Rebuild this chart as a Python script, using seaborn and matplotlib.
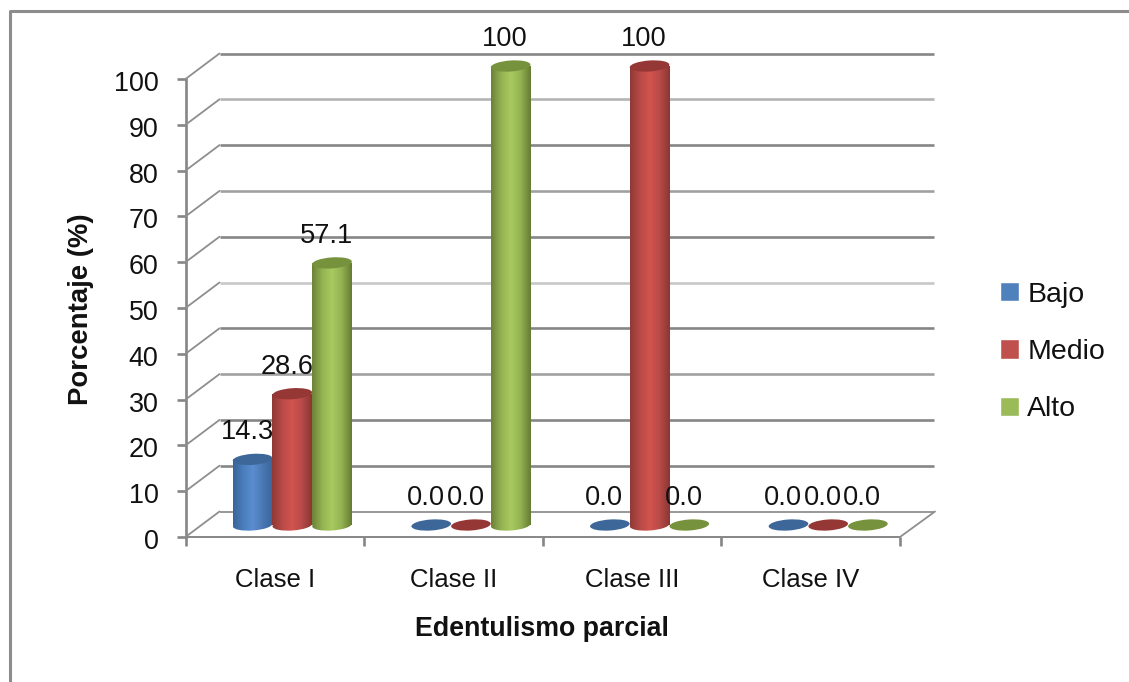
import numpy as np
import pandas as pd
import seaborn as sns
import matplotlib
matplotlib.use("Agg")
import matplotlib.pyplot as plt
from matplotlib.colors import LinearSegmentedColormap
from matplotlib.lines import Line2D
from matplotlib.patches import Ellipse
from matplotlib.transforms import Affine2D

categories = ["Clase I", "Clase II", "Clase III", "Clase IV"]
bajo = [14.3, 0.0, 0.0, 0.0]
medio = [28.6, 0.0, 100, 0.0]
alto = [57.1, 100, 0.0, 0.0]
label_bajo = ["14.3", "0.0", "0.0", "0.0"]
label_medio = ["28.6", "0.0", "100", "0.0"]
label_alto = ["57.1", "100", "0.0", "0.0"]
series_names = ["Bajo", "Medio", "Alto"]
legend_colors = ["#4F81BD", "#C0504D", "#9BBB59"]
top_colors = ["#3D6799", "#953735", "#77923C"]
side_ramps = [["#3A659A", "#4A7DBC", "#5B8ED0", "#4A78B3", "#3A659A"],
              ["#8F3A37", "#B84A47", "#D2544F", "#B84A47", "#8C3633"],
              ["#6C8238", "#93B252", "#A8CA60", "#93B252", "#667C34"]]
grid_shades = ["#868686", "#868686", "#868686", "#A0A0A0", "#868686", "#C8C8C8",
               "#868686", "#A0A0A0", "#868686", "#B4B4B4", "#868686"]

W, H = 1129, 682
GREY = "#868686"
TXT = "#111111"
sns.set_theme(style="white")
plt.rcParams["font.family"] = ["Liberation Sans", "DejaVu Sans"]
fig = plt.figure(figsize=(W / 100, H / 100), dpi=100, facecolor="white")


def box(x0, y0, x1, y1):
    return [x0 / W, 1 - y1 / H, (x1 - x0) / W, (y1 - y0) / H]


# frame of the chart area
fig.add_artist(Line2D([9.5 / W, 9.5 / W, 1], [0, 1 - 10.5 / H, 1 - 10.5 / H], color="#8C8C8C", lw=2.2))

# front axes: carries ticks, labels and the wall grid
front = fig.add_axes(box(185.5, 79, 900, 537))
front.set_xlim(-0.5, 3.5)
front.set_ylim(0, 100)
front.patch.set_alpha(0)
for s in ("top", "right"):
    front.spines[s].set_visible(False)
front.spines["left"].set_color(GREY)
front.spines["left"].set_linewidth(1.9)
front.spines["bottom"].set_color(GREY)
front.spines["bottom"].set_linewidth(1.4)
front.set_yticks(np.arange(0, 101, 10))
front.tick_params(axis="y", length=6.5, width=1.9, color=GREY, labelsize=19.4, pad=13, labelcolor=TXT, left=True)
front.set_xticks(np.arange(-0.5, 3.6, 1))
front.set_xticklabels([])
front.tick_params(axis="x", which="major", length=6.5, width=1.9, color=GREY, bottom=True)
front.set_xticks(np.arange(4), labels=categories, minor=True)
front.tick_params(axis="x", which="minor", length=0, labelsize=18.5, pad=22, labelcolor=TXT, bottom=True)
for t in front.get_yticklabels():
    t.set_transform(t.get_transform() + Affine2D().translate(0, -2))

back = front.transData + Affine2D().translate(34, 25.5)
for v, shade in zip(np.arange(0, 101, 10), grid_shades):
    lw = 1.2 if v == 0 else 1.9
    front.plot([-0.5, 3.5], [v, v], transform=back, color=shade, lw=lw, clip_on=False, zorder=1, solid_capstyle="butt")
    front.annotate("", xy=(-0.5, v), xytext=(34, 25.5), textcoords="offset pixels",
                   arrowprops=dict(arrowstyle="-", color="#8E8E8E", lw=1.3, shrinkA=0, shrinkB=0))
front.annotate("", xy=(3.5, 0), xytext=(35, 25.5), textcoords="offset pixels",
               arrowprops=dict(arrowstyle="-", color="#8E8E8E", lw=1.3, shrinkA=0, shrinkB=0))

# bar plane, sits between the front edge and the back wall
ax = fig.add_axes(box(203, 66, 917.5, 525))
ax.patch.set_alpha(0)
df = pd.DataFrame({
    "cat": categories * 3,
    "val": bajo + medio + alto,
    "serie": np.repeat(series_names, 4),
})
sns.barplot(data=df, x="cat", y="val", hue="serie", hue_order=series_names, order=categories,
            palette=legend_colors, width=0.667, saturation=1, errorbar=None, ax=ax)
ax.set_xlim(-0.5, 3.5)
ax.set_ylim(0, 100)
ax.set_axis_off()
ax.get_legend().remove()
handles = [plt.Rectangle((0, 0), 1, 1, facecolor=c) for c in legend_colors]

fig.canvas.draw()
EH = 11
tilt = 4
values = [bajo, medio, alto]
labels = [label_bajo, label_medio, label_alto]
for i, container in enumerate(ax.containers):
    cmap = LinearSegmentedColormap.from_list(f"c{i}", side_ramps[i])
    for j, bar in enumerate(container):
        v = values[i][j]
        x0, w = bar.get_x(), bar.get_width()
        xc = x0 + w / 2
        px, py = ax.transData.transform((xc, v))
        pb = ax.transData.transform((xc, 0))
        wpx = abs(ax.transData.transform((x0 + w, 0))[0] - ax.transData.transform((x0, 0))[0])
        bar.set_alpha(0)
        z = 3 + i
        if v > 0:
            base = Ellipse((0, 0), wpx, EH, angle=tilt,
                           transform=Affine2D().translate(*pb), facecolor="none", edgecolor="none")
            ax.add_patch(base)
            grad = np.linspace(0, 1, 64).reshape(1, -1)
            im = ax.imshow(grad, cmap=cmap, extent=(x0, x0 + w, 0, v), aspect="auto", zorder=z)
            rect = plt.Rectangle((x0, 0), w, v, transform=ax.transData, facecolor="none", edgecolor="none")
            ax.add_patch(rect)
            im.set_clip_path(rect)
            im2 = ax.imshow(grad, cmap=cmap, extent=(x0, x0 + w, -3, 1), aspect="auto", zorder=z)
            im2.set_clip_box(fig.bbox)
            im2.set_clip_path(base)
        top = Ellipse((0, 0), wpx, EH, angle=tilt, transform=Affine2D().translate(px, py),
                      facecolor=top_colors[i], edgecolor="none", zorder=z + 0.5, clip_on=False)
        ax.add_patch(top)
        ax.annotate(labels[i][j], xy=(xc, v), xytext=(-5.5, 27), textcoords="offset pixels",
                    ha="center", va="center", fontsize=19.6, color=TXT,
                    annotation_clip=False, zorder=10)
ax.set_xlim(-0.5, 3.5)
ax.set_ylim(0, 100)

# axis titles and legend
fig.text(81 / W, 1 - 309 / H, "Porcentaje (%)", rotation=90, ha="center", va="center",
         fontsize=19.8, fontweight="bold", color=TXT)
fig.text(542 / W, 1 - 628.5 / H, "Edentulismo parcial", ha="center", va="center",
         fontsize=19.3, fontweight="bold", color=TXT)
fig.legend(handles, series_names, loc="center left", bbox_to_anchor=(991.5 / W, 1 - 352 / H),
           frameon=False, fontsize=20.5, handlelength=0.66, handleheight=0.66,
           handletextpad=0.3, labelspacing=1.1, labelcolor=TXT, borderpad=0.3, borderaxespad=0)

fig.savefig("out.png", dpi=100, facecolor="white")
